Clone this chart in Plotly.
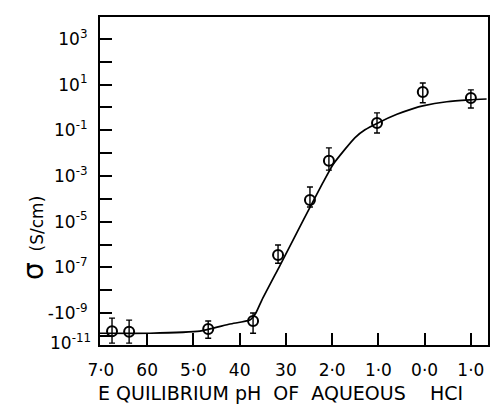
import plotly.graph_objects as go

# Measured points: equilibrium pH vs conductivity (S/cm)
ph_pts = [6.76, 6.39, 4.68, 3.71, 3.17, 2.48, 2.07, 1.03, 0.04, -1.00]
sigma_pts = [1.6e-10, 1.5e-10, 2.0e-10, 4.5e-10, 3.5e-7, 8.9e-5, 4.6e-3, 0.21, 4.8, 2.6]
sigma_hi = [6.0e-10, 4.9e-10, 4.5e-10, 1.0e-9, 9.5e-7, 3.3e-4, 1.7e-2, 0.58, 11.7, 5.9]
sigma_lo = [4.8e-11, 4.8e-11, 7.9e-11, 1.3e-10, 1.5e-7, 4.4e-5, 1.8e-3, 7.6e-2, 1.6, 0.95]

# Hand-drawn trend curve
curve_ph = [7.02, 5.94, 4.86, 4.21, 3.78, 3.65, 3.52, 3.13, 2.76, 2.48, 2.20, 1.98,
            1.72, 1.51, 1.29, 1.01, 0.60, 0.25, 0.04, -0.48, -0.98, -1.34]
curve_sigma = [1.3e-10, 1.3e-10, 1.6e-10, 3.3e-10, 4.9e-10, 1.0e-9, 3.7e-9, 1.2e-7,
               3.4e-6, 4.2e-5, 5.1e-4, 3.2e-3, 1.5e-2, 4.7e-2, 0.105, 0.21, 0.50,
               0.89, 1.17, 1.78, 2.14, 2.34]

x_tickvals = [7, 6, 5, 4, 3, 2, 1, 0, -1]
x_ticktext = ["7·0", "60", "5·0", "40", "30", "2·0", "1·0", "0·0", "1·0"]
y_major_exp = [3, 1, -1, -3, -5, -7, -9]
y_ticktext = ["10<sup>3</sup>", "10<sup>1</sup>", "10<sup>-1</sup>", "10<sup>-3</sup>",
              "10<sup>-5</sup>", "10<sup>-7</sup>", "-10<sup>-9</sup>"]
y_minor_exp = [2, 0, -2, -4, -6, -8, -10]
bottom_label = "10<sup>-11</sup>"

FONT = "DejaVu Sans"

plus = [h - s for h, s in zip(sigma_hi, sigma_pts)]
minus = [s - l for s, l in zip(sigma_pts, sigma_lo)]

fig = go.Figure()
fig.add_trace(go.Scatter(
    x=curve_ph, y=curve_sigma, mode="lines",
    line=dict(color="black", width=1.7, shape="spline", smoothing=0.5),
    hoverinfo="skip", showlegend=False))
fig.add_trace(go.Scatter(
    x=ph_pts, y=sigma_pts, mode="markers",
    marker=dict(symbol="circle-open", size=10, color="black", line=dict(width=2)),
    error_y=dict(type="data", symmetric=False, array=plus, arrayminus=minus,
                 color="black", thickness=1.4, width=3),
    showlegend=False))

fig.update_layout(
    width=500, height=412,
    margin=dict(l=100, r=12, t=17, b=67),
    paper_bgcolor="white", plot_bgcolor="white",
    font=dict(family=FONT, size=16, color="black"),
    xaxis=dict(range=[7.02, -1.37], tickvals=x_tickvals, ticktext=x_ticktext,
               ticks="inside", ticklen=12, tickwidth=1.6, tickcolor="black",
               showline=True, linecolor="black", linewidth=2.2, mirror=True,
               showgrid=False, zeroline=False, ticklabelstandoff=8,
               automargin=False, tickfont=dict(size=17)),
    yaxis=dict(type="log", range=[-10.40, 3.96],
               tickvals=[10.0 ** k for k in y_major_exp],
               ticktext=y_ticktext,
               ticks="inside", ticklen=12, tickwidth=1.6, tickcolor="black",
               minor=dict(tickvals=[10.0 ** k for k in y_minor_exp], ticks="inside",
                          ticklen=12, tickwidth=1.6, tickcolor="black", showgrid=False),
               showline=True, linecolor="black", linewidth=2.2, mirror=True,
               showgrid=False, zeroline=False, ticklabelstandoff=7,
               automargin=False, tickfont=dict(size=17)),
)

fig.add_annotation(text=bottom_label, xref="paper", yref="y", x=0, y=-10.27,
                   xanchor="right", yanchor="middle", xshift=-7, showarrow=False,
                   font=dict(size=17))
fig.add_annotation(text="<span style='font-size:28px'>σ</span>  (S/cm)",
                   xref="paper", yref="paper", x=-0.173, y=0.326, textangle=-90,
                   xanchor="center", yanchor="middle", showarrow=False,
                   font=dict(size=17))
fig.add_annotation(text="E QUILIBRIUM pH  OF  AQUEOUS    HCI",
                   xref="paper", yref="paper", x=0.466, y=-0.146,
                   xanchor="center", yanchor="middle", showarrow=False,
                   font=dict(size=19))

fig.write_html("out.html", config={"displayModeBar": False},
               post_script="document.body.style.margin='0';")
